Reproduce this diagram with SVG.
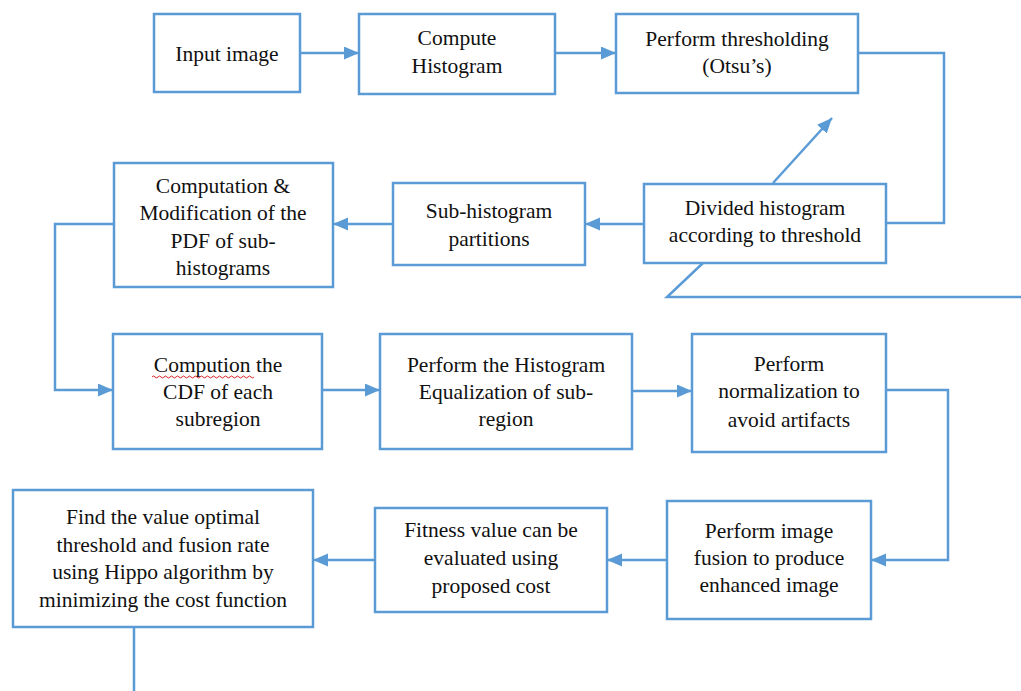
<svg xmlns="http://www.w3.org/2000/svg" width="1021" height="691" viewBox="0 0 1021 691">
<defs>
<marker id="ah" markerUnits="userSpaceOnUse" markerWidth="16" markerHeight="14" refX="15" refY="6.5" orient="auto">
<path d="M0,0 L15,6.5 L0,13 z" fill="#5B9BD5"/>
</marker>
<style>
.box{fill:#fff;stroke:#5B9BD5;stroke-width:2.5}
.c{fill:none;stroke:#5B9BD5;stroke-width:2.5}
.a{marker-end:url(#ah)}
</style>
</defs>
<rect width="1021" height="691" fill="#fff"/>
<g id="connectors">
<line class="c a" x1="300" y1="53" x2="359" y2="53"/>
<line class="c a" x1="555" y1="53" x2="616" y2="53"/>
<polyline class="c" points="858,53 944,53 944,223 886,223"/>
<line class="c a" x1="773" y1="183" x2="832" y2="118"/>
<polyline class="c" points="703,263 667,297 1021,297"/>
<line class="c a" x1="644" y1="224" x2="585" y2="224"/>
<line class="c a" x1="393" y1="224" x2="333" y2="224"/>
<polyline class="c a" points="114,224 55,224 55,390 113,390"/>
<line class="c a" x1="322" y1="390" x2="380" y2="390"/>
<line class="c a" x1="632" y1="391" x2="692" y2="391"/>
<polyline class="c a" points="886,390 948,390 948,560 871,560"/>
<line class="c a" x1="667" y1="560" x2="607" y2="560"/>
<line class="c a" x1="375" y1="560" x2="313" y2="560"/>
<line class="c" x1="134" y1="627" x2="134" y2="691"/>
</g>
<g font-family="'Liberation Serif', 'Times New Roman', serif" font-size="21.5" fill="#111" text-anchor="middle">
<g id="n1"><rect class="box" x="154" y="14" width="146" height="78"/><text x="227" y="61">Input image</text></g>
<g id="n2"><rect class="box" x="359" y="14" width="196" height="80"/><text x="457" y="45">Compute</text><text x="457" y="73">Histogram</text></g>
<g id="n3"><rect class="box" x="616" y="14" width="242" height="79"/><text x="737" y="46">Perform thresholding</text><text x="737" y="73">(Otsu’s)</text></g>
<g id="n4"><rect class="box" x="644" y="184" width="242" height="79"/><text x="765" y="215">Divided histogram</text><text x="765" y="242">according to threshold</text></g>
<g id="n5"><rect class="box" x="393" y="183" width="192" height="82"/><text x="489" y="218">Sub-histogram</text><text x="489" y="246">partitions</text></g>
<g id="n6"><rect class="box" x="114" y="163" width="219" height="124"/><text x="223" y="193">Computation &amp;</text><text x="223" y="220">Modification of the</text><text x="223" y="248">PDF of sub-</text><text x="223" y="275">histograms</text></g>
<g id="n7"><rect class="box" x="113" y="334" width="209" height="115"/><text x="218" y="372">Compution the</text><text x="218" y="399">CDF of each</text><text x="218" y="426">subregion</text>
<path d="M152,377 q1.5,-2 3,0 t3,0 t3,0 t3,0 t3,0 t3,0 t3,0 t3,0 t3,0 t3,0 t3,0 t3,0 t3,0 t3,0 t3,0 t3,0 t3,0 t3,0 t3,0 t3,0 t3,0 t3,0 t3,0 t3,0 t3,0 t3,0 t3,0 t3,0 t3,0 t3,0 t3,0 t3,0 t3,0 t3,0" fill="none" stroke="#e02020" stroke-width="1"/></g>
<g id="n8"><rect class="box" x="380" y="334" width="252" height="115"/><text x="506" y="372">Perform the Histogram</text><text x="506" y="399">Equalization of sub-</text><text x="506" y="426">region</text></g>
<g id="n9"><rect class="box" x="692" y="334" width="194" height="118"/><text x="789" y="371">Perform</text><text x="789" y="398">normalization to</text><text x="789" y="427">avoid artifacts</text></g>
<g id="n10"><rect class="box" x="667" y="501" width="204" height="118"/><text x="769" y="538">Perform image</text><text x="769" y="565">fusion to produce</text><text x="769" y="592">enhanced image</text></g>
<g id="n11"><rect class="box" x="375" y="508" width="232" height="104"/><text x="491" y="537">Fitness value can be</text><text x="491" y="565">evaluated using</text><text x="491" y="593">proposed cost</text></g>
<g id="n12"><rect class="box" x="13" y="490" width="300" height="137"/><text x="163" y="524">Find the value optimal</text><text x="163" y="552">threshold and fusion rate</text><text x="163" y="579">using Hippo algorithm by</text><text x="163" y="607">minimizing the cost function</text></g>
</g>
</svg>
